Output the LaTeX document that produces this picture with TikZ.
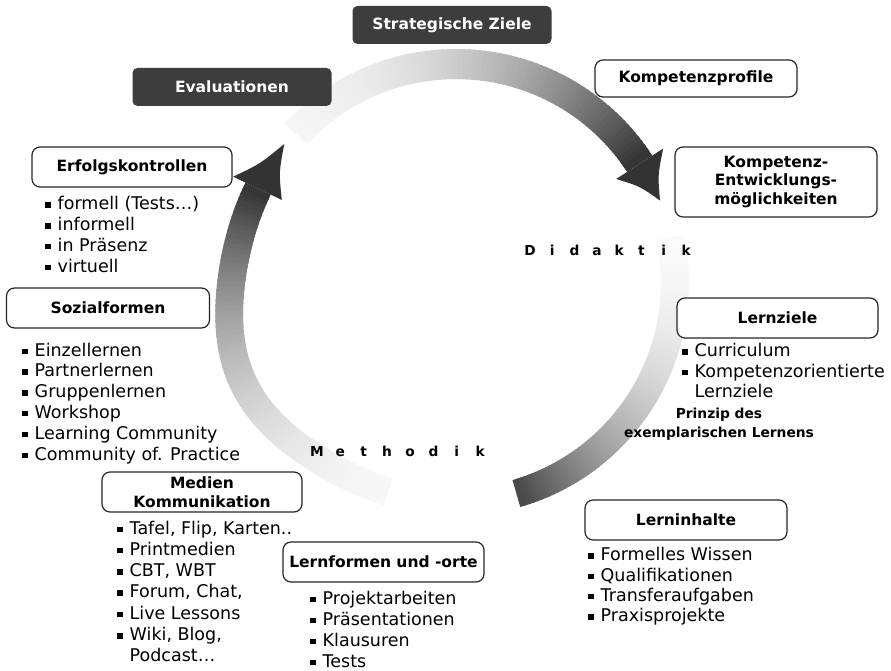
\documentclass[tikz,border=0pt]{standalone}
\usepackage{fontspec}
\setmainfont{DejaVu Sans}
\newcommand\sqbul{\makebox[12.5pt][l]{\raisebox{2pt}{\rule{5.5pt}{5.5pt}}}}
\newcommand\gradband[7]{%
  \foreach \i in {0,...,79}{%
    \pgfmathsetmacro\aA{#1+(#2-#1)*max(\i-0.6,0)/80}%
    \pgfmathsetmacro\aB{#1+(#2-#1)*(\i+1)/80}%
    \pgfmathsetmacro\rA{219+#6*exp(0-((\aA-#7)/25)^2)}%
    \pgfmathsetmacro\rB{219+#6*exp(0-((\aB-#7)/25)^2)}%
    \pgfmathsetmacro\pc{#3+(#4-#3)*((\i+0.5)/80)^2}%
    \fill[black!\pc] ({456+(\rA-#5)*cos(\aA)},{283-(\rA-#5)*sin(\aA)})
      -- ({456+(\rA+#5)*cos(\aA)},{283-(\rA+#5)*sin(\aA)})
      -- ({456+(\rB+#5)*cos(\aB)},{283-(\rB+#5)*sin(\aB)})
      -- ({456+(\rB-#5)*cos(\aB)},{283-(\rB-#5)*sin(\aB)}) -- cycle;
  }}
\begin{document}
\begin{tikzpicture}[x=1pt,y=-1pt,
  darkbox/.style={fill=black!76, text=white, rounded corners=5pt,
    minimum width=199pt, minimum height=38pt, inner sep=0pt,
    font=\bfseries\fontsize{15.5}{18.5}\selectfont},
  whitebox/.style={draw=black!85, line width=1.2pt, fill=white, rounded corners=8pt,
    minimum width=201pt, minimum height=40pt, inner sep=0pt, align=center,
    font=\bfseries\fontsize{15.5}{18.5}\selectfont},
  item/.style={anchor=base west, inner sep=0pt, font=\fontsize{17.5}{21}\selectfont},
  letter/.style={anchor=base, inner sep=0pt, font=\bfseries\fontsize{13.7}{16}\selectfont},
  note/.style={anchor=base, inner sep=0pt, font=\bfseries\fontsize{13.8}{19}\selectfont},
  headfill/.style={fill=black!80}]
\fill[white] (0,0) rectangle (891,671);
\useasboundingbox (0,0) rectangle (891,671);

% cycle arrows
\gradband{137}{33}{4}{80}{15}{0}{0}
\gradband{12}{-74}{2}{72}{14}{0}{0}
\gradband{252}{154.5}{3}{80}{14}{16}{205}
% arrowheads (slightly swept sides)
\fill[headfill] (663.2,148.5) .. controls (657.8,174.9) .. (660,200.6)
  .. controls (640.2,186.4) .. (616.2,179) -- cycle;
\fill[headfill] (281.8,199.9) .. controls (278.9,172.3) .. (284.3,143.9)
  .. controls (260.6,163.6) .. (233.1,176.7) -- cycle;

% dark boxes
\node[darkbox] (sz) at (452,25) {Strategische Ziele};
\node[darkbox] (ev) at (232,87) {Evaluationen};

% white boxes
\node[whitebox, minimum width=202pt, minimum height=37pt] (kp) at (696,78.5) {Kompetenzprofile};
\node[whitebox, minimum width=202pt, minimum height=70pt] (ke) at (776,182) {Kompetenz-\\Entwicklungs-\\möglichkeiten};
\node[whitebox, minimum width=200pt] (ek) at (132,167) {Erfolgskontrollen};
\node[whitebox, minimum width=203pt] (sf) at (108,308) {Sozialformen};
\node[whitebox] (lz) at (777.5,318) {Lernziele};
\node[whitebox, minimum width=202pt] (li) at (686,520) {Lerninhalte};
\node[whitebox, minimum width=200pt] (mk) at (202,492) {Medien\\Kommunikation};
\node[whitebox] (lf) at (383.5,562) {Lernformen und -orte};

% lists
\foreach \txt [count=\k from 0] in {formell (Tests…), informell, in Präsenz, virtuell}
  \node[item] (ekl\k) at (45,{210+20.7*\k}) {\sqbul\txt};
\foreach \txt [count=\k from 0] in {Einzellernen, Partnerlernen, Gruppenlernen, Workshop, Learning Community, Community of. Practice}
  \node[item] (sfl\k) at (22,{356+20.8*\k}) {\sqbul\txt};
\node[item] (lzl0) at (682,356.7) {\sqbul Curriculum};
\node[item] (lzl1) at (682,377) {\sqbul Kompetenzorientierte};
\node[item] (lzl2) at (694.5,397.3) {Lernziele};
\foreach \txt [count=\k from 0] in {Formelles Wissen, Qualifikationen, Transferaufgaben, Praxisprojekte}
  \node[item] (lil\k) at (588,{560.7+20.3*\k}) {\sqbul\txt};
\foreach \txt [count=\k from 0] in {{Tafel, Flip, Karten..}, Printmedien, {CBT, WBT}, {Forum, Chat,}, Live Lessons, {Wiki, Blog,}}
  \node[item] (mkl\k) at (117,{534+21.3*\k}) {\sqbul\txt};
\node[item] (mkl6) at (129.5,661.8) {Podcast…};
\foreach \txt [count=\k from 0] in {Projektarbeiten, Präsentationen, Klausuren, Tests}
  \node[item] (lfl\k) at (310,{604+21*\k}) {\sqbul\txt};

% notes
\node[note] (pr1) at (719,418) {Prinzip des};
\node[note] (pr2) at (719,437) {exemplarischen Lernens};
\foreach \ch [count=\k from 0] in {D,i,d,a,k,t,i,k}
  \node[letter] (di\k) at ({530+22.3*\k},255) {\ch};
\foreach \ch [count=\k from 0] in {M,e,t,h,o,d,i,k}
  \node[letter] (me\k) at ({317+23.3*\k},456.7) {\ch};
\end{tikzpicture}
\end{document}
